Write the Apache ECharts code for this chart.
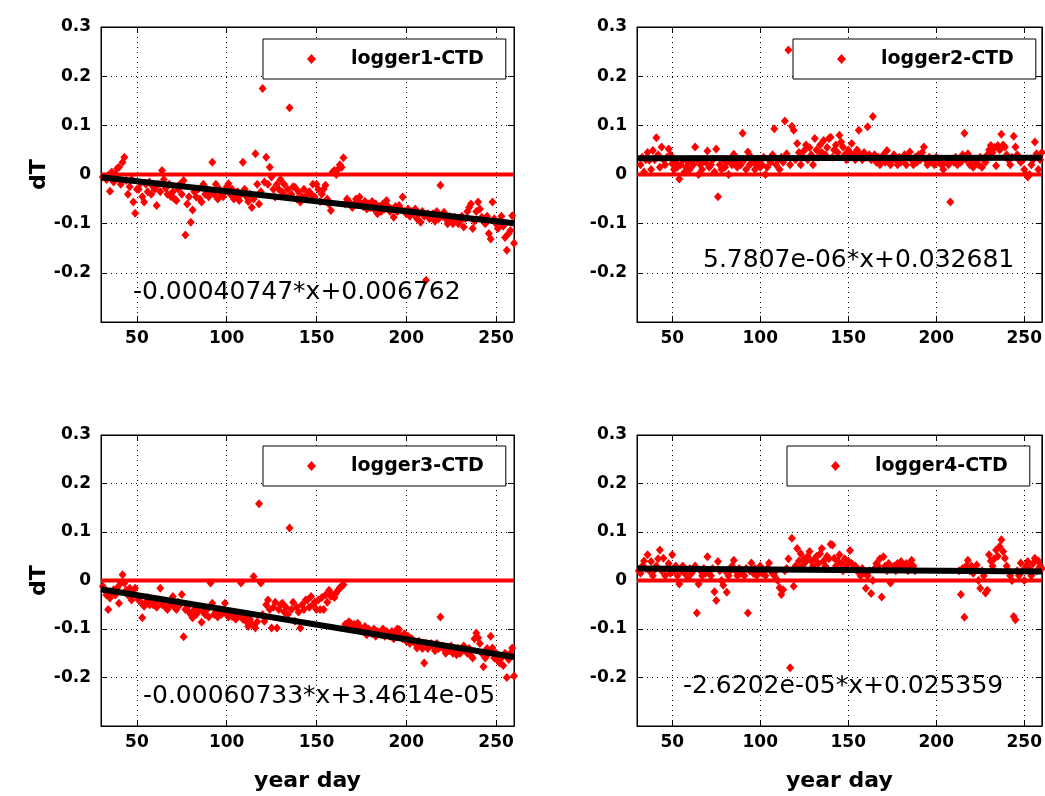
<!DOCTYPE html>
<html>
<head>
<meta charset="utf-8">
<script src="https://cdn.jsdelivr.net/npm/echarts@6/dist/echarts.min.js"></script>
<style>
html,body{margin:0;padding:0;background:#fff;}
#chart{width:1045px;height:796px;}
</style>
</head>
<body>
<div id="chart"></div>
<script>
// ---- data (day, dT) ----
const logger1 = [[31,-0.005],[33,-0.01],[34,-0.002],[35,-0.034],[36,0.005],[37,-0.015],[38,0.0],[39,0.012],[40,0.015],[41,-0.02],[42,0.025],[43,0.035],[44,-0.012],[45,-0.04],[46,-0.025],[47,-0.01],[48,-0.056],[49,-0.079],[50,-0.03],[51,-0.03],[52,-0.018],[53,-0.045],[54,-0.056],[55,-0.02],[56,-0.035],[57,-0.015],[58,-0.04],[59,-0.025],[60,-0.03],[61,-0.063],[62,-0.02],[63,-0.035],[64,0.008],[65,-0.01],[66,-0.028],[67,-0.04],[68,-0.02],[69,-0.045],[70,-0.035],[71,-0.05],[72,-0.053],[73,-0.03],[74,-0.02],[75,-0.04],[76,-0.012],[77,-0.123],[78,-0.06],[79,-0.045],[80,-0.097],[81,-0.072],[82,-0.035],[83,-0.046],[84,-0.03],[85,-0.05],[86,-0.056],[87,-0.02],[88,-0.04],[89,-0.03],[90,-0.045],[91,-0.035],[92,0.025],[93,-0.04],[94,-0.02],[95,-0.05],[96,-0.03],[97,-0.04],[98,-0.045],[99,-0.035],[100,-0.025],[101,-0.019],[102,-0.04],[103,-0.03],[104,-0.05],[105,-0.045],[106,-0.035],[107,-0.053],[108,-0.04],[109,0.025],[110,-0.03],[111,-0.045],[112,-0.055],[113,-0.04],[114,-0.067],[115,-0.05],[116,0.042],[117,-0.02],[118,-0.06],[119,-0.035],[120,0.175],[121,-0.015],[122,0.035],[123,-0.02],[124,0.015],[125,-0.005],[126,-0.03],[127,-0.046],[128,-0.02],[129,-0.03],[130,-0.01],[131,-0.036],[132,-0.02],[133,-0.045],[134,-0.03],[135,0.136],[136,-0.04],[137,-0.025],[138,-0.026],[139,-0.05],[140,-0.035],[141,-0.056],[142,-0.045],[143,-0.03],[144,-0.05],[145,-0.04],[146,-0.035],[147,-0.04],[148,-0.02],[149,-0.045],[150,-0.02],[151,-0.03],[152,-0.055],[153,-0.04],[154,-0.03],[155,-0.022],[156,-0.05],[157,-0.06],[158,-0.073],[159,0.005],[160,0.008],[161,0.0],[162,0.01],[163,0.02],[164,0.015],[165,0.034],[166,-0.06],[167,-0.05],[168,-0.055],[169,-0.06],[170,-0.067],[171,-0.06],[172,-0.05],[173,-0.055],[174,-0.046],[175,-0.06],[176,-0.065],[177,-0.055],[178,-0.07],[179,-0.06],[180,-0.067],[181,-0.055],[182,-0.07],[183,-0.06],[184,-0.08],[185,-0.065],[186,-0.075],[187,-0.06],[188,-0.07],[189,-0.053],[190,-0.065],[191,-0.075],[192,-0.07],[193,-0.087],[194,-0.065],[195,-0.075],[196,-0.063],[197,-0.07],[198,-0.046],[199,-0.075],[200,-0.08],[201,-0.07],[202,-0.085],[203,-0.075],[204,-0.08],[205,-0.07],[206,-0.09],[207,-0.08],[208,-0.097],[209,-0.075],[210,-0.085],[211,-0.215],[212,-0.08],[213,-0.09],[214,-0.085],[215,-0.08],[216,-0.095],[217,-0.075],[218,-0.09],[219,-0.022],[220,-0.085],[221,-0.077],[222,-0.09],[223,-0.1],[224,-0.085],[225,-0.095],[226,-0.1],[227,-0.087],[228,-0.09],[229,-0.1],[230,-0.095],[231,-0.085],[232,-0.107],[233,-0.09],[234,-0.075],[235,-0.067],[236,-0.06],[237,-0.11],[238,-0.095],[239,-0.075],[240,-0.056],[241,-0.07],[242,-0.087],[243,-0.094],[244,-0.1],[245,-0.085],[246,-0.12],[247,-0.131],[248,-0.056],[249,-0.09],[250,-0.1],[251,-0.11],[252,-0.095],[253,-0.085],[254,-0.105],[255,-0.128],[256,-0.154],[257,-0.12],[258,-0.114],[259,-0.084],[260,-0.14]];

const logger2 = [[32,0.02],[33,0.035],[34,0.005],[35,0.03],[36,0.045],[37,0.029],[38,0.01],[39,0.049],[40,0.03],[41,0.075],[42,0.04],[43,0.015],[44,0.056],[45,0.03],[46,0.02],[47,0.035],[48,0.052],[49,0.04],[50,0.022],[51,0.01],[52,0.025],[53,0.015],[54,-0.009],[55,0.02],[56,0.03],[57,0.005],[58,0.015],[59,0.025],[60,0.01],[61,0.03],[62,0.02],[63,0.056],[64,0.03],[65,0.0],[66,0.02],[67,0.01],[68,0.03],[69,0.025],[70,0.048],[71,0.015],[72,0.02],[73,0.03],[74,0.005],[75,0.052],[76,-0.045],[77,0.02],[78,0.01],[79,0.03],[80,0.015],[81,0.025],[82,0.0],[83,0.03],[84,0.02],[85,0.041],[86,0.025],[87,0.015],[88,0.03],[89,0.02],[90,0.084],[91,0.03],[92,0.01],[93,0.046],[94,0.02],[95,0.035],[96,0.025],[97,0.01],[98,0.022],[99,0.03],[100,0.015],[101,0.02],[102,0.035],[103,0.0],[104,0.015],[105,0.03],[106,0.025],[107,0.04],[108,0.093],[109,0.02],[110,0.03],[111,0.01],[112,0.035],[113,0.025],[114,0.109],[115,0.042],[116,0.253],[117,0.02],[118,0.098],[119,0.09],[120,0.03],[121,0.063],[122,0.045],[123,0.02],[124,0.035],[125,0.049],[126,0.06],[127,0.03],[128,0.055],[129,0.04],[130,0.02],[131,0.073],[132,0.05],[133,0.035],[134,0.06],[135,0.045],[136,0.069],[137,0.04],[138,0.055],[139,0.073],[140,0.076],[141,0.035],[142,0.05],[143,0.06],[144,0.045],[145,0.08],[146,0.066],[147,0.056],[148,0.04],[149,0.03],[150,0.05],[151,0.045],[152,0.063],[153,0.04],[154,0.03],[155,0.05],[156,0.09],[157,0.04],[158,0.03],[159,0.045],[160,0.035],[161,0.097],[162,0.04],[163,0.03],[164,0.118],[165,0.04],[166,0.025],[167,0.035],[168,0.02],[169,0.03],[170,0.04],[171,0.025],[172,0.049],[173,0.03],[174,0.02],[175,0.029],[176,0.04],[177,0.03],[178,0.02],[179,0.035],[180,0.025],[181,0.03],[182,0.04],[183,0.02],[184,0.035],[185,0.046],[186,0.03],[187,0.02],[188,0.035],[189,0.025],[190,0.04],[191,0.03],[192,0.045],[193,0.056],[194,0.03],[195,0.02],[196,0.035],[197,0.025],[198,0.03],[199,0.02],[200,0.035],[201,0.025],[202,0.03],[203,0.02],[204,0.01],[205,0.025],[206,0.03],[207,0.02],[208,-0.056],[209,0.03],[210,0.025],[211,0.035],[212,0.02],[213,0.03],[214,0.025],[215,0.04],[216,0.084],[217,0.03],[218,0.042],[219,0.02],[220,0.03],[221,0.015],[222,0.025],[223,0.03],[224,0.02],[225,0.035],[226,0.015],[227,0.03],[228,0.025],[229,0.04],[230,0.05],[231,0.059],[232,0.045],[233,0.055],[234,0.018],[235,0.059],[236,0.05],[237,0.082],[238,0.06],[239,0.056],[240,0.04],[241,0.03],[242,0.02],[243,0.035],[244,0.078],[245,0.056],[246,0.04],[247,0.03],[248,0.025],[249,0.029],[250,0.01],[251,0.0],[252,-0.005],[253,0.0],[254,0.02],[255,0.03],[256,0.066],[257,0.042],[258,0.01],[259,0.03],[260,0.045]];

const logger3 = [[31,-0.012],[32,-0.02],[33,-0.03],[34,-0.06],[35,-0.036],[36,-0.025],[37,-0.019],[38,-0.03],[39,-0.015],[40,-0.047],[41,-0.005],[42,0.012],[43,-0.005],[44,-0.02],[45,-0.03],[46,-0.016],[47,-0.04],[48,-0.025],[49,-0.016],[50,-0.033],[51,-0.04],[52,-0.045],[53,-0.077],[54,-0.053],[55,-0.045],[56,-0.035],[57,-0.05],[58,-0.04],[59,-0.05],[60,-0.045],[61,-0.055],[62,-0.04],[63,-0.016],[64,-0.05],[65,-0.045],[66,-0.055],[67,-0.06],[68,-0.045],[69,-0.05],[70,-0.033],[71,-0.055],[72,-0.06],[73,-0.045],[74,-0.05],[75,-0.029],[76,-0.116],[77,-0.06],[78,-0.055],[79,-0.065],[80,-0.07],[81,-0.077],[82,-0.06],[83,-0.07],[84,-0.065],[85,-0.055],[86,-0.086],[87,-0.065],[88,-0.07],[89,-0.06],[90,-0.075],[91,-0.005],[92,-0.047],[93,-0.07],[94,-0.065],[95,-0.075],[96,-0.06],[97,-0.07],[98,-0.065],[99,-0.047],[100,-0.07],[101,-0.075],[102,-0.065],[103,-0.074],[104,-0.07],[105,-0.08],[106,-0.075],[107,-0.07],[108,-0.005],[109,-0.08],[110,-0.075],[111,-0.085],[112,-0.095],[113,-0.08],[114,-0.09],[115,0.008],[116,-0.098],[117,-0.085],[118,0.158],[119,-0.005],[120,-0.07],[121,-0.084],[122,-0.05],[123,-0.04],[124,-0.06],[125,-0.098],[126,-0.055],[127,-0.045],[128,-0.098],[129,-0.06],[130,-0.05],[131,-0.047],[132,-0.065],[133,-0.055],[134,-0.07],[135,0.108],[136,-0.06],[137,-0.045],[138,-0.084],[139,-0.055],[140,-0.065],[141,-0.098],[142,-0.05],[143,-0.06],[144,-0.04],[145,-0.04],[146,-0.055],[147,-0.033],[148,-0.05],[149,-0.045],[150,-0.06],[151,-0.04],[152,-0.06],[153,-0.035],[154,-0.06],[155,-0.03],[156,-0.045],[157,-0.02],[158,-0.033],[159,-0.03],[160,-0.035],[161,-0.026],[162,-0.02],[163,-0.015],[164,-0.012],[165,-0.009],[166,-0.09],[167,-0.095],[168,-0.085],[169,-0.088],[170,-0.095],[171,-0.09],[172,-0.1],[173,-0.088],[174,-0.095],[175,-0.1],[176,-0.105],[177,-0.095],[178,-0.112],[179,-0.1],[180,-0.105],[181,-0.11],[182,-0.1],[183,-0.115],[184,-0.105],[185,-0.108],[186,-0.112],[187,-0.1],[188,-0.115],[189,-0.105],[190,-0.11],[191,-0.115],[192,-0.105],[193,-0.12],[194,-0.11],[195,-0.1],[196,-0.101],[197,-0.115],[198,-0.12],[199,-0.11],[200,-0.125],[201,-0.115],[202,-0.13],[203,-0.12],[204,-0.125],[205,-0.13],[206,-0.139],[207,-0.125],[208,-0.13],[209,-0.14],[210,-0.17],[211,-0.13],[212,-0.14],[213,-0.135],[214,-0.13],[215,-0.136],[216,-0.145],[217,-0.13],[218,-0.14],[219,-0.075],[220,-0.135],[221,-0.142],[222,-0.15],[223,-0.14],[224,-0.145],[225,-0.135],[226,-0.15],[227,-0.145],[228,-0.153],[229,-0.14],[230,-0.15],[231,-0.145],[232,-0.135],[233,-0.142],[234,-0.15],[235,-0.14],[236,-0.155],[237,-0.16],[238,-0.12],[239,-0.108],[240,-0.118],[241,-0.13],[242,-0.15],[243,-0.178],[244,-0.16],[245,-0.14],[246,-0.15],[247,-0.115],[248,-0.139],[249,-0.16],[250,-0.15],[251,-0.165],[252,-0.17],[253,-0.16],[254,-0.175],[255,-0.15],[256,-0.2],[257,-0.163],[258,-0.15],[259,-0.139],[260,-0.197]];

const logger4 = [[31,0.02],[32,0.015],[33,0.03],[34,0.04],[35,0.025],[36,0.053],[37,0.02],[38,0.039],[39,0.01],[40,0.022],[41,0.03],[42,0.045],[43,0.063],[44,0.02],[45,0.046],[46,0.01],[47,0.025],[48,0.035],[49,0.015],[50,0.053],[51,0.02],[52,0.03],[53,0.01],[54,-0.007],[55,0.02],[56,0.03],[57,0.015],[58,0.02],[59,0.005],[60,0.025],[61,0.015],[62,0.02],[63,0.03],[64,-0.067],[65,-0.007],[66,0.02],[67,0.01],[68,0.025],[69,0.015],[70,0.049],[71,0.02],[72,0.01],[73,0.025],[74,-0.023],[75,-0.041],[76,0.039],[77,0.02],[78,0.0],[79,-0.01],[80,0.02],[81,-0.024],[82,0.01],[83,0.02],[84,0.03],[85,0.042],[86,0.02],[87,0.01],[88,0.025],[89,0.015],[90,0.02],[91,0.01],[92,0.025],[93,-0.067],[94,0.02],[95,0.036],[96,0.015],[97,0.025],[98,0.01],[99,0.02],[100,0.03],[101,0.015],[102,0.02],[103,0.01],[104,0.025],[105,0.036],[106,0.02],[107,0.015],[108,0.01],[109,0.02],[110,0.0],[111,-0.015],[112,-0.029],[113,-0.019],[114,0.02],[115,0.025],[116,0.045],[117,-0.18],[118,0.087],[119,-0.012],[120,0.03],[121,0.066],[122,0.04],[123,0.055],[124,0.03],[125,0.045],[126,0.039],[127,0.05],[128,0.06],[129,0.04],[130,0.03],[131,0.045],[132,0.05],[133,0.035],[134,0.055],[135,0.066],[136,0.04],[137,0.03],[138,0.05],[139,0.045],[140,0.075],[141,0.073],[142,0.046],[143,0.03],[144,0.04],[145,0.053],[146,0.035],[147,0.02],[148,0.045],[149,0.03],[150,0.04],[151,0.062],[152,0.035],[153,0.025],[154,0.03],[155,0.02],[156,0.022],[157,0.01],[158,0.025],[159,0.015],[160,-0.016],[161,0.01],[162,0.02],[163,-0.027],[164,0.0],[165,0.025],[166,0.035],[167,0.03],[168,0.045],[169,-0.034],[170,0.049],[171,0.03],[172,0.02],[173,0.035],[174,-0.005],[175,0.025],[176,0.03],[177,0.02],[178,0.035],[179,0.025],[180,0.039],[181,0.03],[182,0.025],[183,0.035],[184,0.02],[185,0.03],[186,0.042],[187,0.03],[188,0.02],[213,0.02],[214,-0.029],[215,0.025],[216,-0.076],[217,0.03],[218,0.042],[219,0.02],[220,0.03],[221,0.015],[222,0.025],[223,0.032],[224,0.0],[225,-0.016],[226,0.02],[227,0.01],[228,-0.026],[229,-0.02],[230,0.053],[231,0.04],[232,0.03],[233,0.045],[234,0.063],[235,0.05],[236,0.07],[237,0.084],[238,0.06],[239,0.046],[240,0.03],[241,0.02],[242,0.01],[243,0.0],[244,-0.074],[245,-0.081],[246,0.02],[247,0.01],[248,0.036],[249,0.02],[250,0.0],[251,0.03],[252,0.039],[253,0.025],[254,0.01],[255,0.035],[256,0.046],[257,0.02],[258,0.04],[259,0.03],[260,0.025]];

// fitted lines (end points, from the printed equations)
const fit1 = [[30,-0.0055],[260,-0.0992]];
const fit2 = [[30,0.0328],[260,0.0342]];
const fit3 = [[30,-0.0182],[260,-0.1579]];
const fit4 = [[30,0.0246],[260,0.0186]];
const zeroLine = [[30,0],[260,0]];

const seriesNames = ['logger1-CTD','logger2-CTD','logger3-CTD','logger4-CTD'];
const equations = ['-0.00040747*x+0.006762','5.7807e-06*x+0.032681','-0.00060733*x+3.4614e-05','-2.6202e-05*x+0.025359'];
const xTicks = [50,100,150,200,250];
const xRange = [30,260];
const yRange = [-0.3,0.3];
const yStep = 0.1;

// ---- layout ----
const grids = [
  {left:101, top:27, width:413, height:295},
  {left:637, top:27, width:406, height:295},
  {left:101, top:435, width:413, height:291},
  {left:637, top:435, width:406, height:291}
];
const legendPos = [
  {left:263, top:39},
  {left:793, top:39},
  {left:263, top:446},
  {left:787, top:446}
];
const eqPos = [[133,292],[703,260],[143,696],[683,686]];
const FONT = '"DejaVu Sans", "Liberation Sans", Arial, sans-serif';

const datasets = [logger1, logger2, logger3, logger4];
const fits = [fit1, fit2, fit3, fit4];

const xAxes = [], yAxes = [], series = [], legends = [], graphics = [];
const lineCol = '#000';
for (let i = 0; i < 4; i++) {
  const bottomRow = i >= 2;
  const leftCol = (i % 2) === 0;
  xAxes.push({
    type:'value', gridIndex:i, min:xRange[0], max:xRange[1], position:'bottom',
    axisLine:{show:true, onZero:false, lineStyle:{color:lineCol, width:1}},
    axisTick:{show:true, inside:true, length:6, lineStyle:{color:lineCol}, customValues:xTicks},
    axisLabel:{show:true, customValues:xTicks, color:'#000', fontFamily:FONT, fontWeight:'bold', fontSize:17, margin:8},
    splitLine:{show:true, lineStyle:{color:'#000', width:1, type:[1,4]}},
    name: bottomRow ? 'year day' : '', nameLocation:'middle', nameGap:44,
    nameTextStyle:{color:'#000', fontFamily:FONT, fontWeight:'bold', fontSize:22}
  });
  yAxes.push({
    type:'value', gridIndex:i, min:yRange[0], max:yRange[1], interval:yStep, position:'left',
    axisLine:{show:true, onZero:false, lineStyle:{color:lineCol, width:1}},
    axisTick:{show:true, inside:true, length:6, lineStyle:{color:lineCol}},
    axisLabel:{show:true, showMinLabel:false, color:'#000', fontFamily:FONT, fontWeight:'bold', fontSize:17, margin:10,
      formatter: v => { const r = Math.round(v*10)/10; return r === 0 ? '0' : String(r); }},
    splitLine:{show:true, lineStyle:{color:'#000', width:1, type:[1,4]}},
    name: leftCol ? 'dT' : '', nameLocation:'middle', nameGap:46, nameRotate:90,
    nameTextStyle:{color:'#000', fontFamily:FONT, fontWeight:'bold', fontSize:22}
  });
}
for (let i = 0; i < 4; i++) {
  xAxes.push({
    type:'value', gridIndex:i, min:xRange[0], max:xRange[1], position:'top',
    axisLine:{show:true, onZero:false, lineStyle:{color:lineCol, width:1}},
    axisTick:{show:true, inside:true, length:6, lineStyle:{color:lineCol}, customValues:xTicks},
    axisLabel:{show:false}, splitLine:{show:false}
  });
  yAxes.push({
    type:'value', gridIndex:i, min:yRange[0], max:yRange[1], interval:yStep, position:'right',
    axisLine:{show:true, onZero:false, lineStyle:{color:lineCol, width:1}},
    axisTick:{show:true, inside:true, length:6, lineStyle:{color:lineCol}},
    axisLabel:{show:false}, splitLine:{show:false}
  });
}
for (let i = 0; i < 4; i++) {
  series.push({
    name:seriesNames[i], type:'scatter', xAxisIndex:i, yAxisIndex:i,
    data:datasets[i], symbol:'diamond', symbolSize:[8,9],
    itemStyle:{color:'#ff0000', opacity:1}, z:2, silent:true
  });
  series.push({
    name:'zero'+i, type:'line', xAxisIndex:i, yAxisIndex:i, data:zeroLine,
    symbol:'none', lineStyle:{color:'#ff0000', width:4}, z:3, silent:true
  });
  series.push({
    name:'fit'+i, type:'line', xAxisIndex:i, yAxisIndex:i, data:fits[i],
    symbol:'none', lineStyle:{color:'#000', width:6}, z:4, silent:true
  });
  legends.push({
    data:[{name:seriesNames[i], icon:'diamond'}],
    left:legendPos[i].left, top:legendPos[i].top,
    orient:'horizontal', selectedMode:false,
    backgroundColor:'#fff', borderColor:'#000', borderWidth:1, borderRadius:0,
    padding:[9, 22, 9, 44], itemWidth:9, itemHeight:10,
    itemStyle:{color:'#ff0000'},
    textStyle:{color:'#000', fontFamily:FONT, fontWeight:'bold', fontSize:19, lineHeight:22, padding:[0,0,0,30]}
  });
  graphics.push({
    type:'text', x:eqPos[i][0], y:eqPos[i][1], z:100,
    style:{text:equations[i], fill:'#000', font:'25px ' + FONT, verticalAlign:'middle', align:'left'}
  });
}

const chart = echarts.init(document.getElementById('chart'), null, {renderer:'canvas'});
chart.setOption({
  backgroundColor:'#ffffff',
  animation:false,
  grid:grids.map(g => Object.assign({containLabel:false, show:true, borderColor:'#000', borderWidth:1, backgroundColor:'transparent'}, g)),
  xAxis:xAxes,
  yAxis:yAxes,
  legend:legends,
  series:series,
  graphic:graphics
});
</script>
</body>
</html>
